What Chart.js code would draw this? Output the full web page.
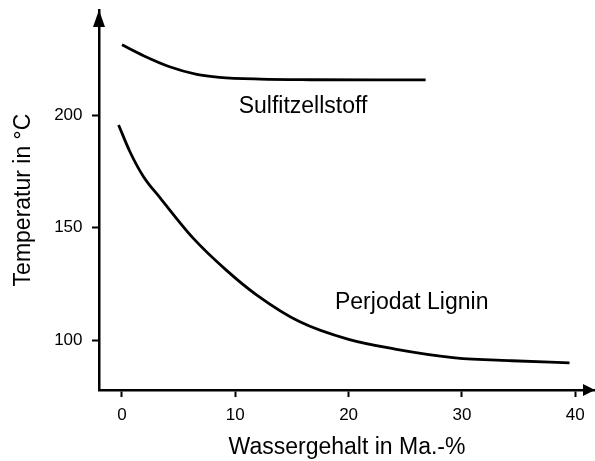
<!DOCTYPE html>
<html>
<head>
<meta charset="utf-8">
<script src="https://cdn.jsdelivr.net/npm/chart.js@4.4.1/dist/chart.umd.min.js"></script>
<style>
  html, body { margin: 0; padding: 0; background: #fff; }
  #wrap { width: 595px; height: 461px; }
</style>
</head>
<body>
<div id="wrap"><canvas id="chart" width="595" height="461"></canvas></div>
<script>
// values
const sulfitX = [0, 1.9, 4.2, 6.6, 8.6, 12.2, 16.6, 22.5, 26.8];
const sulfitT = [231.2, 226.4, 221.5, 218.1, 216.8, 216.0, 215.7, 215.6, 215.6];

const ligninX = [-0.3, 0.7, 1.9, 3.4, 6.3, 9.2, 11.9, 15.7, 20, 24.1, 29.4, 34.4, 39.5];
const ligninT = [195.6, 183.7, 172.6, 163, 145.2, 131.1, 120, 108.1, 100.3, 96, 92.1, 90.8, 89.9];

const xTicks = [0, 10, 20, 30, 40];
const yTicks = [100, 150, 200];

const curveLabels = ['Sulfitzellstoff', 'Perjodat Lignin'];
const curveLabelX = [10.3, 18.8];
const curveLabelT = [203.6, 116.8];

const FONT = "'Liberation Sans', Arial, sans-serif";

const toPoints = (xs, ys) => xs.map((x, i) => ({ x: x, y: ys[i] }));

// arrow heads at the ends of both axes + text next to the curves
const axisExtras = {
    id: 'axisExtras',
    afterDraw(chart) {
        const ctx = chart.ctx;
        const area = chart.chartArea;
        const xs = chart.scales.x;
        const ys = chart.scales.y;
        ctx.save();
        ctx.fillStyle = '#000';

        // y arrow
        ctx.beginPath();
        ctx.moveTo(area.left, area.top);
        ctx.lineTo(area.left - 6, area.top + 17);
        ctx.lineTo(area.left + 6, area.top + 17);
        ctx.closePath();
        ctx.fill();

        // x arrow
        ctx.beginPath();
        ctx.moveTo(area.right, area.bottom);
        ctx.lineTo(area.right - 12, area.bottom - 6);
        ctx.lineTo(area.right - 12, area.bottom + 6);
        ctx.closePath();
        ctx.fill();

        ctx.font = '23px ' + FONT;
        ctx.textAlign = 'left';
        ctx.textBaseline = 'middle';
        curveLabels.forEach((txt, i) => {
            ctx.fillText(txt, xs.getPixelForValue(curveLabelX[i]), ys.getPixelForValue(curveLabelT[i]));
        });
        ctx.restore();
    }
};

const lineStyle = {
    borderColor: '#000',
    borderWidth: 2.8,
    pointRadius: 0,
    fill: false,
    cubicInterpolationMode: 'monotone'
};

new Chart(document.getElementById('chart'), {
    type: 'line',
    data: {
        datasets: [
            Object.assign({ label: 'Sulfitzellstoff', data: toPoints(sulfitX, sulfitT) }, lineStyle),
            Object.assign({ label: 'Perjodat Lignin', data: toPoints(ligninX, ligninT) }, lineStyle)
        ]
    },
    options: {
        responsive: false,
        animation: false,
        layout: { padding: 0 },
        plugins: {
            legend: { display: false },
            tooltip: { enabled: false }
        },
        scales: {
            x: {
                type: 'linear',
                min: -2.03,
                max: 41.75,
                afterFit: (s) => { s.height = 71; s.paddingLeft = 0; s.paddingRight = 0; },
                afterBuildTicks: (s) => { s.ticks = xTicks.map(v => ({ value: v })); },
                border: { display: true, color: '#000', width: 2.5 },
                grid: { display: true, drawOnChartArea: false, drawTicks: true, tickLength: 7, tickWidth: 2, tickColor: '#000' },
                ticks: { color: '#000', autoSkip: false, maxRotation: 0, padding: 8, font: { family: FONT, size: 17 } },
                title: { display: true, text: 'Wassergehalt in Ma.-%', color: '#000', padding: { top: 0, bottom: 0 }, font: { family: FONT, size: 23 } }
            },
            y: {
                type: 'linear',
                min: 77.8,
                max: 246.7,
                afterFit: (s) => { s.width = 99; s.paddingTop = 10; s.paddingBottom = 0; },
                afterBuildTicks: (s) => { s.ticks = yTicks.map(v => ({ value: v })); },
                border: { display: true, color: '#000', width: 2.5 },
                grid: { display: true, drawOnChartArea: false, drawTicks: true, tickLength: 7, tickWidth: 2, tickColor: '#000' },
                ticks: { color: '#000', padding: 9.5, font: { family: FONT, size: 17 } },
                title: { display: true, text: 'Temperatur in °C', color: '#000', padding: { top: 10, bottom: 0 }, font: { family: FONT, size: 23 } }
            }
        }
    },
    plugins: [axisExtras]
});
</script>
</body>
</html>
